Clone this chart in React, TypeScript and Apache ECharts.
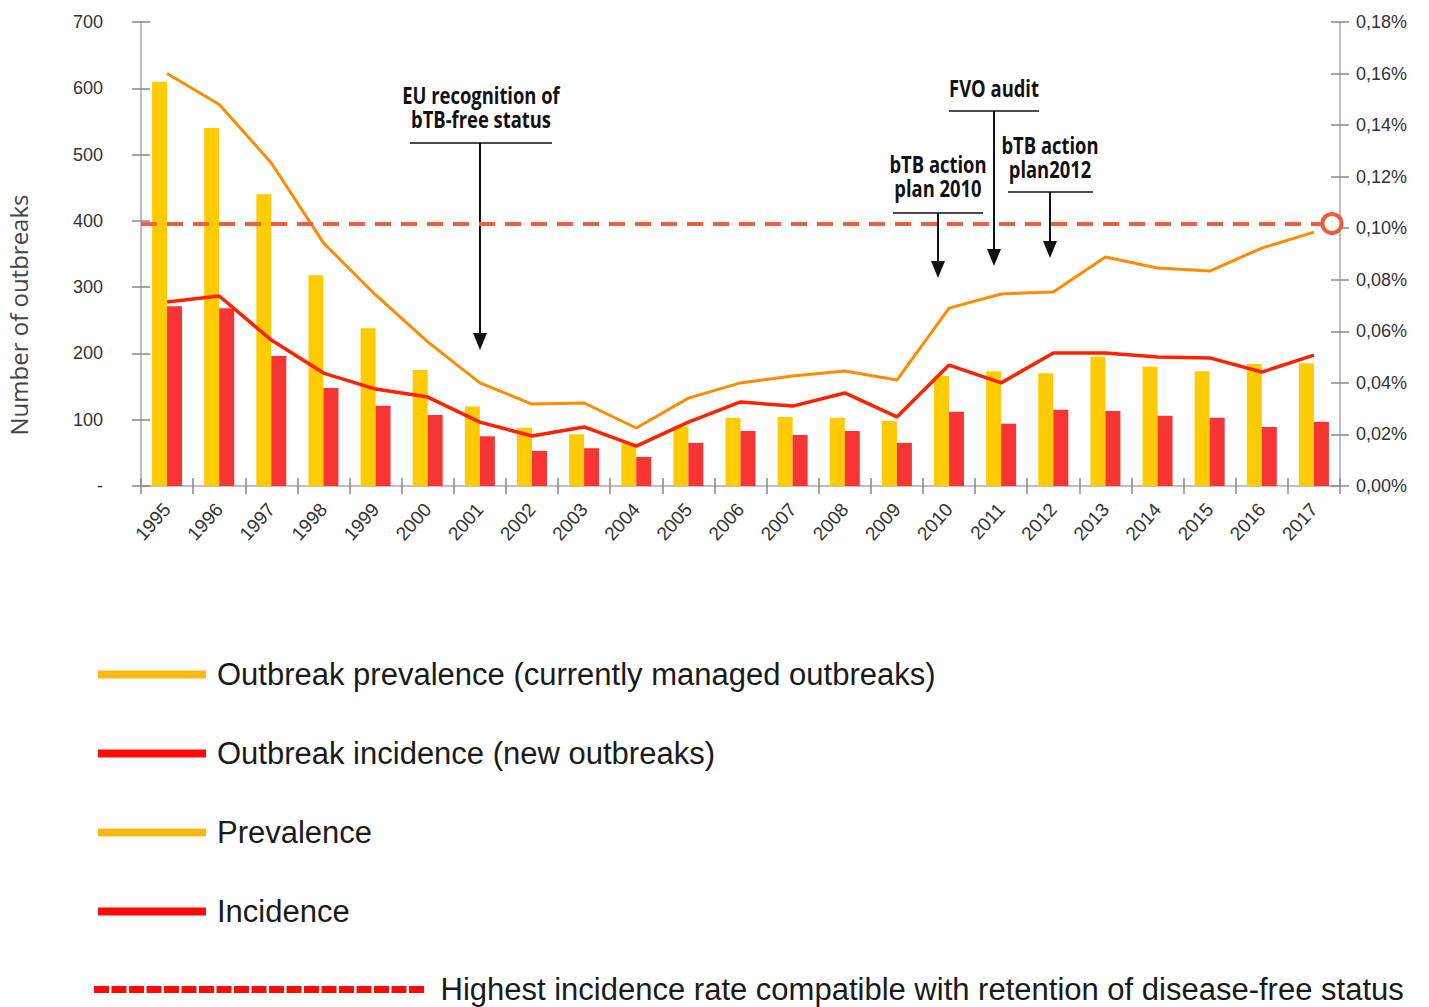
import React, { useEffect, useRef } from "react";
import * as echarts from "echarts";

const years = ["1995","1996","1997","1998","1999","2000","2001","2002","2003","2004","2005","2006","2007","2008","2009","2010","2011","2012","2013","2014","2015","2016","2017"];
const outbreakPrevalence = [610,540,440,318,238,175,120,88,78,65,90,103,104,103,98,166,173,170,195,180,173,184,185];
const outbreakIncidence = [271,268,196,148,121,107,75,53,57,44,65,83,77,83,65,112,94,115,113,106,103,89,97];
const prevalencePct = [0.160,0.148,0.1253,0.0943,0.0741,0.0559,0.0400,0.0318,0.0322,0.0225,0.0341,0.0400,0.0427,0.0446,0.0411,0.0690,0.0745,0.0753,0.0888,0.0846,0.0834,0.0923,0.0985];
const incidencePct = [0.0714,0.0737,0.0566,0.0438,0.0376,0.0345,0.0248,0.0194,0.0229,0.0155,0.0248,0.0326,0.0310,0.0361,0.0268,0.0469,0.0400,0.0516,0.0516,0.0500,0.0497,0.0442,0.0508];
const thresholdPct = 0.1018;

const NAME_BAR_PREV = "Outbreak prevalence (currently managed outbreaks)";
const NAME_BAR_INC = "Outbreak incidence (new outbreaks)";
const NAME_LINE_PREV = "Prevalence";
const NAME_LINE_INC = "Incidence";
const NAME_THRESH = "Highest incidence rate compatible with retention of disease-free status";

const annotations = [
  { text: "EU recognition of\nbTB-free status", tx: 481, ty: 107, hx1: 410, hx2: 552, hy: 143, ax: 480, tip: 350 },
  { text: "FVO audit", tx: 994, ty: 88, hx1: 949, hx2: 1039, hy: 111, ax: 994, tip: 266 },
  { text: "bTB action\nplan 2010", tx: 938, ty: 176, hx1: 893, hx2: 983, hy: 213, ax: 938, tip: 278 },
  { text: "bTB action\nplan2012", tx: 1050, ty: 157, hx1: 1008, hx2: 1093, hy: 192, ax: 1050, tip: 258 },
];

const FONT = "'Liberation Sans', Arial, Helvetica, sans-serif";
const BOLD_FONT = "'Open Sans', 'Noto Sans', sans-serif";

function dashPath(): string {
  let d = "path://";
  for (let i = 0; i < 19; i++) {
    const x = i * 17.5;
    d += `M${x},0h15v7h-15z`;
  }
  return d;
}

export default function App() {
  const ref = useRef<HTMLDivElement>(null);
  useEffect(() => {
    if (!ref.current) return;
    const chart = echarts.init(ref.current, undefined, { renderer: "svg" });

    const graphics: any[] = [
      {
        type: "text",
        x: 18,
        y: 315,
        rotation: Math.PI / 2,
        style: {
          text: "Number of outbreaks",
          font: "24px 'Open Sans', 'Noto Sans', sans-serif",
          fill: "#444",
          textAlign: "center",
          textVerticalAlign: "middle",
        },
      },
    ];
    annotations.forEach((a) => {
      graphics.push({
        type: "text",
        x: a.tx,
        y: a.ty,
        scaleX: 0.8,
        style: {
          text: a.text,
          font: `bold 23px ${BOLD_FONT}`,
          fill: "#111",
          textAlign: "center",
          textVerticalAlign: "middle",
          lineHeight: 24,
        },
      });
      graphics.push({
        type: "line",
        shape: { x1: a.hx1, y1: a.hy, x2: a.hx2, y2: a.hy },
        style: { stroke: "#111", lineWidth: 1.5 },
      });
      graphics.push({
        type: "line",
        shape: { x1: a.ax, y1: a.hy, x2: a.ax, y2: a.tip - 14 },
        style: { stroke: "#111", lineWidth: 2 },
      });
      graphics.push({
        type: "polygon",
        shape: { points: [[a.ax - 7, a.tip - 17], [a.ax + 7, a.tip - 17], [a.ax, a.tip]] },
        style: { fill: "#111" },
      });
    });

    const axisLineStyle = { color: "#aaa", width: 1.5 };

    chart.setOption({
      animation: false,
      grid: { left: 141, right: 89, top: 22, bottom: 521, containLabel: false },
      xAxis: [
        {
          type: "category",
          data: years,
          boundaryGap: true,
          axisLine: { lineStyle: axisLineStyle },
          axisTick: { show: true, length: 8, lineStyle: { color: "#888", width: 1.5 } },
          axisLabel: { rotate: 48, fontSize: 19, color: "#333", fontFamily: FONT, margin: 20, interval: 0 },
        },
        {
          type: "category",
          data: years,
          position: "bottom",
          boundaryGap: true,
          axisLine: { show: false },
          axisTick: { show: true, inside: true, length: 8, lineStyle: { color: "#888", width: 1.5 } },
          axisLabel: { show: false },
        },
      ],
      yAxis: [
        {
          type: "value",
          min: 0,
          max: 700,
          interval: 100,
          position: "left",
          axisLine: { show: true, lineStyle: axisLineStyle },
          axisTick: { show: true, length: 9, lineStyle: { color: "#888", width: 1.5 } },
          axisLabel: {
            fontSize: 18,
            color: "#333",
            fontFamily: FONT,
            margin: 38,
            formatter: (v: number) => (v === 0 ? "-" : String(v)),
          },
          splitLine: { show: false },
        },
        {
          type: "value",
          min: 0,
          max: 0.18,
          interval: 0.02,
          position: "right",
          axisLine: { show: true, lineStyle: axisLineStyle },
          axisTick: { show: true, length: 9, lineStyle: { color: "#888", width: 1.5 } },
          axisLabel: {
            fontSize: 18,
            color: "#333",
            fontFamily: FONT,
            margin: 16,
            formatter: (v: number) => v.toFixed(2).replace(".", ",") + "%",
          },
          splitLine: { show: false },
        },
        {
          type: "value",
          min: 0,
          max: 700,
          interval: 100,
          position: "left",
          axisLine: { show: false },
          axisTick: { show: true, inside: true, length: 9, lineStyle: { color: "#888", width: 1.5 } },
          axisLabel: { show: false },
          splitLine: { show: false },
        },
        {
          type: "value",
          min: 0,
          max: 0.18,
          interval: 0.02,
          position: "right",
          axisLine: { show: false },
          axisTick: { show: true, inside: true, length: 9, lineStyle: { color: "#888", width: 1.5 } },
          axisLabel: { show: false },
          splitLine: { show: false },
        },
      ],
      legend: [
        {
          orient: "vertical",
          left: 98,
          top: 659,
          padding: 0,
          itemWidth: 108,
          itemHeight: 8,
          itemGap: 48,
          selectedMode: false,
          textStyle: { fontSize: 31, color: "#1a1a1a", fontFamily: FONT, padding: [0, 0, 0, 6] },
          data: [
            { name: NAME_BAR_PREV, icon: "rect", itemStyle: { color: "#fcb813", borderWidth: 0 } },
            { name: NAME_BAR_INC, icon: "rect", itemStyle: { color: "#ff0a0a", borderWidth: 0 } },
            { name: NAME_LINE_PREV, icon: "rect", itemStyle: { color: "#fcb813", borderWidth: 0 } },
            { name: NAME_LINE_INC, icon: "rect", itemStyle: { color: "#ff0a0a", borderWidth: 0 } },
          ],
        },
        {
          orient: "vertical",
          left: 94,
          top: 974,
          padding: 0,
          itemWidth: 331,
          itemHeight: 7,
          selectedMode: false,
          textStyle: { fontSize: 31, color: "#1a1a1a", fontFamily: FONT, padding: [0, 0, 0, 11] },
          data: [{ name: NAME_THRESH, icon: dashPath(), itemStyle: { color: "#ff0a0a", borderWidth: 0 } }],
        },
      ],
      series: [
        {
          name: NAME_BAR_PREV,
          type: "bar",
          data: outbreakPrevalence,
          barWidth: 15,
          barGap: "0%",
          itemStyle: { color: "#ffcb05" },
          z: 2,
        },
        {
          name: NAME_BAR_INC,
          type: "bar",
          data: outbreakIncidence,
          barWidth: 15,
          barGap: "0%",
          itemStyle: { color: "#f73535" },
          z: 2,
        },
        {
          name: NAME_LINE_PREV,
          type: "line",
          yAxisIndex: 1,
          data: prevalencePct,
          symbol: "none",
          lineStyle: { color: "#ff8c00", width: 3 },
          itemStyle: { color: "#ff8c00" },
          z: 3,
        },
        {
          name: NAME_LINE_INC,
          type: "line",
          yAxisIndex: 1,
          data: incidencePct,
          symbol: "none",
          lineStyle: { color: "#ff2200", width: 3.5 },
          itemStyle: { color: "#ff2200" },
          z: 3,
        },
        {
          name: NAME_THRESH,
          type: "line",
          yAxisIndex: 1,
          data: [],
          z: 4,
          markLine: {
            silent: true,
            precision: 6,
            symbol: ["none", "none"],
            label: { show: false },
            lineStyle: { color: "#ec6040", width: 4, type: [16, 10] },
            emphasis: { disabled: true },
            data: [{ yAxis: thresholdPct }],
          },
        },
      ],
      graphic: graphics,
    });

    const py = chart.convertToPixel({ yAxisIndex: 1 }, thresholdPct) as number;
    chart.setOption({
      graphic: [
        ...graphics,
        {
          type: "circle",
          z: 100,
          shape: { cx: 1332, cy: py, r: 9.5 },
          style: { fill: "#fff", stroke: "#ea5d3b", lineWidth: 4 },
        },
      ],
    }, { replaceMerge: ["graphic"] });

    return () => chart.dispose();
  }, []);

  return <div ref={ref} style={{ width: 1429, height: 1007, position: "absolute", left: 0, top: 0 }} />;
}
